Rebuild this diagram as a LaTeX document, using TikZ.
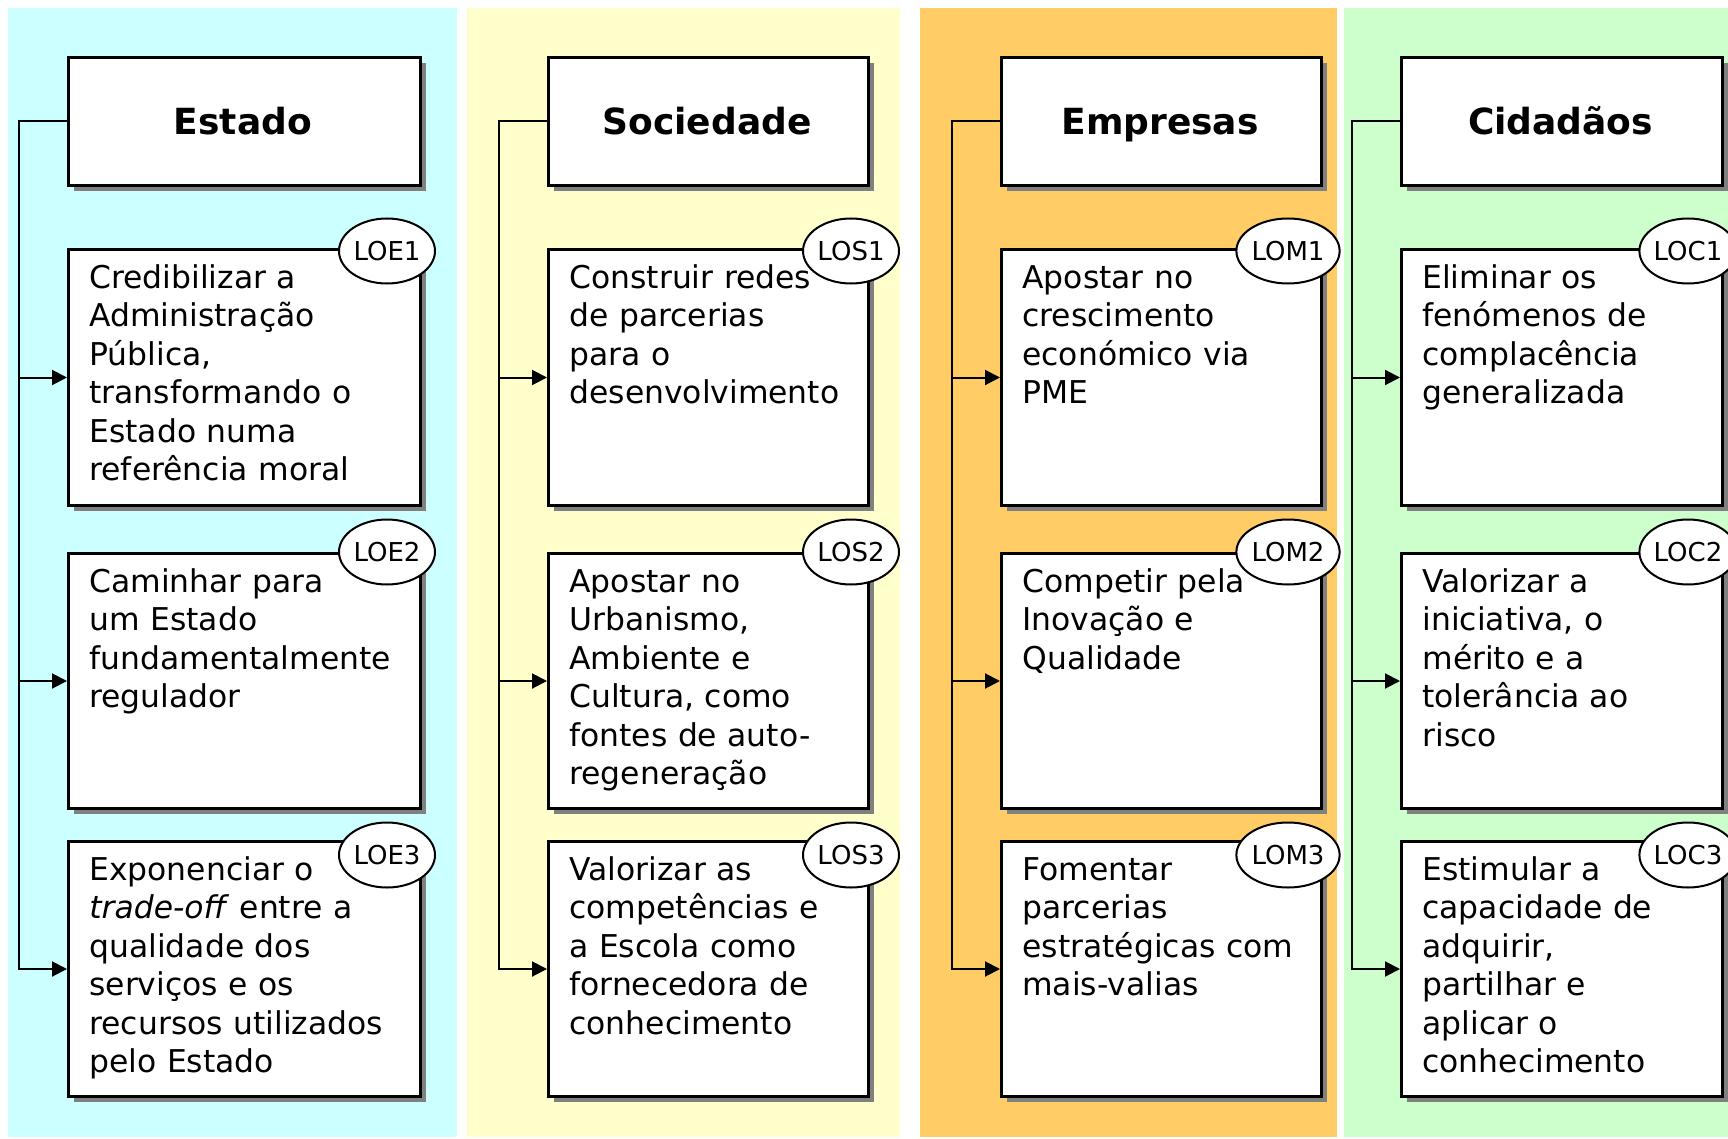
\documentclass[tikz,border=0pt]{standalone}
\usepackage{fontspec}
\setmainfont{DejaVu Sans}
\usetikzlibrary{arrows.meta,shapes.geometric}
\definecolor{pcyan}{HTML}{CCFFFF}
\definecolor{pyellow}{HTML}{FFFFCC}
\definecolor{porange}{HTML}{FFCC66}
\definecolor{pgreen}{HTML}{CCFFCC}
\definecolor{shade}{HTML}{808080}
\tikzset{
  box/.style={rectangle, draw, line width=1.5pt, fill=white, inner sep=0pt, anchor=north west,
    preaction={fill=shade, transform canvas={shift={(2.75pt,-2.75pt)}}}},
  txt/.style={anchor=base west, inner sep=0pt, align=left, text width=200pt,
    font=\fontsize{15.7}{19.25}\selectfont},
  htxt/.style={anchor=base, inner sep=0pt, font=\fontsize{18}{22}\selectfont\bfseries},
  lbl/.style={ellipse, draw, line width=1pt, fill=white, minimum width=48pt,
    minimum height=32.5pt, inner sep=0pt, font=\fontsize{13}{15}\selectfont},
  conn/.style={line width=1pt, -{Triangle[length=7.5pt,width=7.5pt]}}
}
\newcommand\obox[8]{%
  \node[box, minimum width=#4*0.5pt, minimum height=#5*0.5pt] (#1) at (#2,#3) {};
  \node[txt] (#1t) at ({#2+22},{#3+40}) {#6};
  \node[lbl] (#1l) at (#7,#8) {#1};
}
\newcommand\hdrbox[4]{% name x w title
  \node[box, minimum width=#3*0.5pt, minimum height=128*0.5pt] (#1) at (#2,56) {};
  \node[htxt] (#1t) at ({#2+#3/2},135) {#4};
}
\begin{document}
\begin{tikzpicture}[x=0.5pt,y=-0.5pt]
\useasboundingbox (0,0) rectangle (1728,1139);
\fill[white] (0,0) rectangle (1728,1139);
\fill[pcyan] (8,8) rectangle (457,1137);
\fill[pyellow] (467,8) rectangle (900,1137);
\fill[porange] (920,8) rectangle (1337,1137);
\fill[pgreen] (1344,8) rectangle (1728,1137);

% Column 1: Estado
\hdrbox{hE}{67}{352}{Estado}
\obox{LOE1}{67}{248}{352}{256}{Credibilizar a\\Administração\\Pública,\\transformando o\\Estado numa\\referência moral}{387}{251}
\obox{LOE2}{67}{552}{352}{255}{Caminhar para\\um Estado\\fundamentalmente\\regulador}{387}{552}
\obox{LOE3}{67}{840}{352}{255}{Exponenciar o\\\textit{trade-off} entre a\\qualidade dos\\serviços e os\\recursos utilizados\\pelo Estado}{387}{855}
\coordinate (vE) at (19,0);
\draw[conn] (hE.west) -| (LOE3.west -| vE) -- (LOE3.west);
\draw[conn] (LOE1.west -| vE) -- (LOE1.west);
\draw[conn] (LOE2.west -| vE) -- (LOE2.west);

% Column 2: Sociedade
\hdrbox{hS}{547}{320}{Sociedade}
\obox{LOS1}{547}{248}{320}{256}{Construir redes\\de parcerias\\para o\\desenvolvimento}{851}{251}
\obox{LOS2}{547}{552}{320}{255}{Apostar no\\Urbanismo,\\Ambiente e\\Cultura, como\\fontes de auto-\\regeneração}{851}{552}
\obox{LOS3}{547}{840}{320}{255}{Valorizar as\\competências e\\a Escola como\\fornecedora de\\conhecimento}{851}{855}
\coordinate (vS) at (499,0);
\draw[conn] (hS.west) -| (LOS3.west -| vS) -- (LOS3.west);
\draw[conn] (LOS1.west -| vS) -- (LOS1.west);
\draw[conn] (LOS2.west -| vS) -- (LOS2.west);

% Column 3: Empresas
\hdrbox{hM}{1000}{320}{Empresas}
\obox{LOM1}{1000}{248}{320}{256}{Apostar no\\crescimento\\económico via\\PME}{1288}{251}
\obox{LOM2}{1000}{552}{320}{255}{Competir pela\\Inovação e\\Qualidade}{1288}{552}
\obox{LOM3}{1000}{840}{320}{255}{Fomentar\\parcerias\\estratégicas com\\mais-valias}{1288}{855}
\coordinate (vM) at (952,0);
\draw[conn] (hM.west) -| (LOM3.west -| vM) -- (LOM3.west);
\draw[conn] (LOM1.west -| vM) -- (LOM1.west);
\draw[conn] (LOM2.west -| vM) -- (LOM2.west);

% Column 4: Cidadãos
\hdrbox{hC}{1400}{321}{Cidadãos}
\obox{LOC1}{1400}{248}{321}{256}{Eliminar os\\fenómenos de\\complacência\\generalizada}{1688}{251}
\obox{LOC2}{1400}{552}{321}{255}{Valorizar a\\iniciativa, o\\mérito e a\\tolerância ao\\risco}{1688}{552}
\obox{LOC3}{1400}{840}{321}{255}{Estimular a\\capacidade de\\adquirir,\\partilhar e\\aplicar o\\conhecimento}{1688}{855}
\coordinate (vC) at (1352,0);
\draw[conn] (hC.west) -| (LOC3.west -| vC) -- (LOC3.west);
\draw[conn] (LOC1.west -| vC) -- (LOC1.west);
\draw[conn] (LOC2.west -| vC) -- (LOC2.west);
\end{tikzpicture}
\end{document}
